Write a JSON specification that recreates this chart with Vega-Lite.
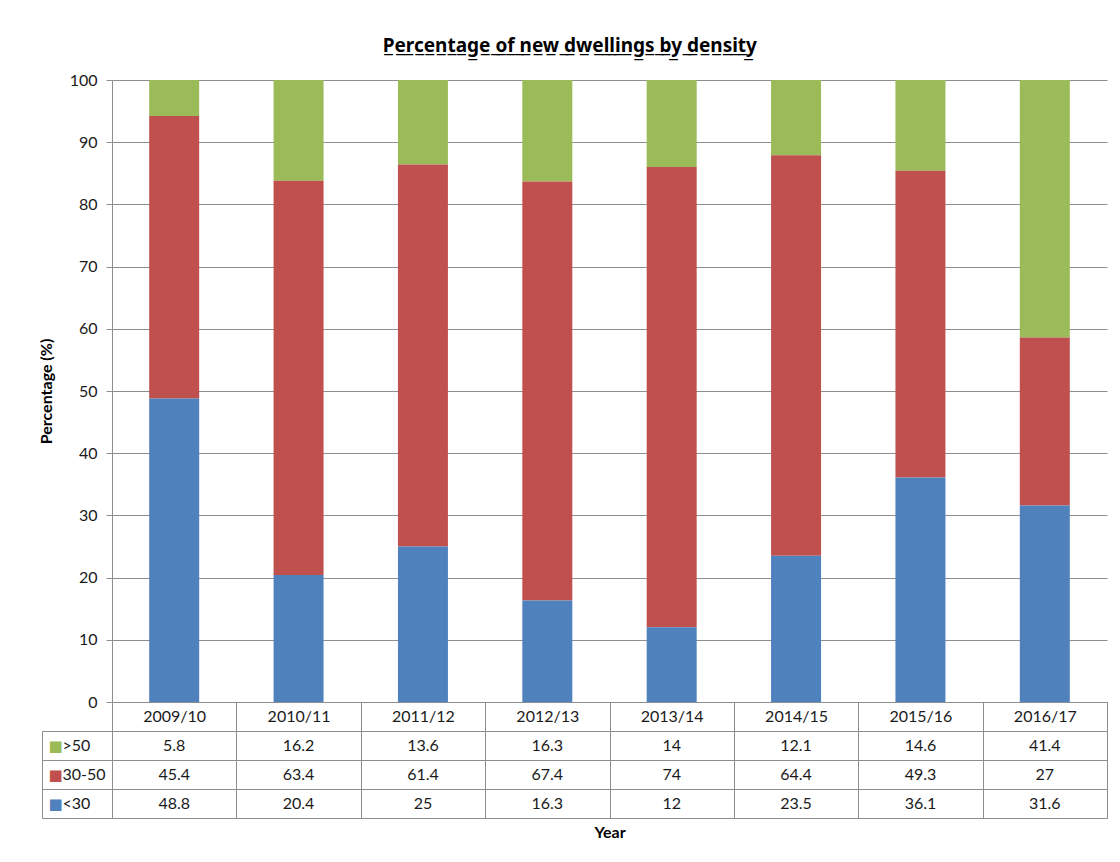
{
  "$schema": "https://vega.github.io/schema/vega-lite/v6.json",
  "padding": {"left": 38, "top": 37, "right": 5, "bottom": 5},
  "background": "white",
  "title": {
    "text": "P̲e̲r̲c̲e̲n̲t̲a̲g̲e̲ ̲o̲f̲ ̲n̲e̲w̲ ̲d̲w̲e̲l̲l̲i̲n̲g̲s̲ ̲b̲y̲ ̲d̲e̲n̲s̲i̲t̲y̲",
    "font": "Noto Sans",
    "fontSize": 19,
    "fontWeight": "bold",
    "color": "#000000",
    "anchor": "middle",
    "dx": -3,
    "offset": 16
  },
  "config": {"font": "Lato", "view": {"stroke": null}},
  "datasets": {
    "dwellings": [
      {"year": "2009/10", "density": ">50", "pct": 5.8},
      {"year": "2009/10", "density": "30-50", "pct": 45.4},
      {"year": "2009/10", "density": "<30", "pct": 48.8},
      {"year": "2010/11", "density": ">50", "pct": 16.2},
      {"year": "2010/11", "density": "30-50", "pct": 63.4},
      {"year": "2010/11", "density": "<30", "pct": 20.4},
      {"year": "2011/12", "density": ">50", "pct": 13.6},
      {"year": "2011/12", "density": "30-50", "pct": 61.4},
      {"year": "2011/12", "density": "<30", "pct": 25},
      {"year": "2012/13", "density": ">50", "pct": 16.3},
      {"year": "2012/13", "density": "30-50", "pct": 67.4},
      {"year": "2012/13", "density": "<30", "pct": 16.3},
      {"year": "2013/14", "density": ">50", "pct": 14},
      {"year": "2013/14", "density": "30-50", "pct": 74},
      {"year": "2013/14", "density": "<30", "pct": 12},
      {"year": "2014/15", "density": ">50", "pct": 12.1},
      {"year": "2014/15", "density": "30-50", "pct": 64.4},
      {"year": "2014/15", "density": "<30", "pct": 23.5},
      {"year": "2015/16", "density": ">50", "pct": 14.6},
      {"year": "2015/16", "density": "30-50", "pct": 49.3},
      {"year": "2015/16", "density": "<30", "pct": 36.1},
      {"year": "2016/17", "density": ">50", "pct": 41.4},
      {"year": "2016/17", "density": "30-50", "pct": 27},
      {"year": "2016/17", "density": "<30", "pct": 31.6}
    ]
  },
  "data": {"name": "dwellings"},
  "transform": [
    {"calculate": "indexof(['<30', '30-50', '>50'], datum.density)", "as": "stack_order"}
  ],
  "bounds": "flush",
  "spacing": 29,
  "vconcat": [
    {
      "width": 995,
      "height": 622,
      "view": {"stroke": null},
      "mark": {"type": "bar", "width": {"band": 0.402}},
      "encoding": {
        "x": {
          "field": "year",
          "type": "ordinal",
          "scale": {"paddingInner": 0, "paddingOuter": 0},
          "axis": {
            "title": null,
            "labelAngle": 0,
            "tickBand": "extent",
            "tickSize": 29,
            "tickColor": "#8e8e8e",
            "domainColor": "#8e8e8e",
            "labelPadding": -15,
            "labelBaseline": "middle",
            "labelFontSize": 16,
            "labelColor": "#1a1a1a"
          }
        },
        "y": {
          "field": "pct",
          "type": "quantitative",
          "stack": "zero",
          "scale": {"domain": [0, 100], "nice": false},
          "axis": {
            "values": [0, 10, 20, 30, 40, 50, 60, 70, 80, 90, 100],
            "title": "Percentage (%)",
            "titleFontSize": 16,
            "titleFontWeight": "bold",
            "titleColor": "#000000",
            "titlePadding": 15,
            "tickSize": 6,
            "labelPadding": 9,
            "labelFontSize": 16,
            "labelColor": "#1a1a1a",
            "gridColor": "#8e8e8e",
            "domainColor": "#8e8e8e",
            "tickColor": "#8e8e8e"
          }
        },
        "color": {
          "field": "density",
          "type": "nominal",
          "scale": {"domain": [">50", "30-50", "<30"], "range": ["#9BBB59", "#C0504D", "#4F81BD"]},
          "legend": null
        },
        "order": {"field": "stack_order", "type": "quantitative"}
      }
    },
    {
      "width": 995,
      "height": 87,
      "view": {"stroke": "#8e8e8e"},
      "layer": [
        {
          "mark": {"type": "text", "fontSize": 16, "color": "#1a1a1a"},
          "encoding": {
            "x": {
              "field": "year",
              "type": "ordinal",
              "scale": {"paddingInner": 0, "paddingOuter": 0},
              "axis": {
                "title": "Year",
                "labels": false,
                "ticks": false,
                "domain": false,
                "grid": true,
                "tickBand": "extent",
                "gridColor": "#8e8e8e",
                "titleFontSize": 16,
                "titleFontWeight": "bold",
                "titleColor": "#000000",
                "titlePadding": 6
              }
            },
            "y": {
              "field": "density",
              "type": "nominal",
              "sort": [">50", "30-50", "<30"],
              "scale": {"paddingInner": 0, "paddingOuter": 0},
              "axis": {
                "title": null,
                "orient": "left",
                "offset": 70,
                "tickSize": -70,
                "tickBand": "extent",
                "tickColor": "#8e8e8e",
                "domainColor": "#8e8e8e",
                "grid": true,
                "gridColor": "#8e8e8e",
                "labelAlign": "left",
                "labelPadding": 50,
                "labelFontSize": 16,
                "labelColor": "#1a1a1a"
              }
            },
            "text": {"field": "pct", "type": "nominal"}
          }
        },
        {
          "mark": {"type": "text"},
          "encoding": {
            "y": {
              "field": "density",
              "type": "nominal",
              "sort": [">50", "30-50", "<30"],
              "scale": {"paddingInner": 0, "paddingOuter": 0},
              "axis": {
                "title": null,
                "orient": "left",
                "offset": 70,
                "ticks": false,
                "domain": false,
                "grid": false,
                "labelExpr": "'■'",
                "labelFont": "DejaVu Sans",
                "labelFontSize": 15,
                "labelAlign": "left",
                "labelPadding": -6,
                "labelColor": {
                  "condition": [
                    {"test": "datum.value === '>50'", "value": "#9BBB59"},
                    {"test": "datum.value === '30-50'", "value": "#C0504D"}
                  ],
                  "value": "#4F81BD"
                }
              }
            }
          }
        }
      ],
      "resolve": {"axis": {"y": "independent"}}
    }
  ]
}
